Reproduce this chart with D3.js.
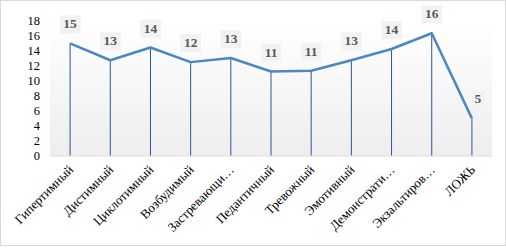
<!DOCTYPE html>
<html>
<head>
<meta charset="utf-8">
<script src="https://cdn.jsdelivr.net/npm/d3@7"></script>
<style>
  body { margin: 0; background: #fff; }
  svg { display: block; }
</style>
</head>
<body>
<div id="chart"></div>
<script>
// data
var categories = ["Гипертимный", "Дистимный", "Циклотимный", "Возбудимый", "Застревающи…",
  "Педантичный", "Тревожный", "Эмотивный", "Демонстрати…", "Экзальтиров…", "ЛОЖЬ"];
var values = [14.96, 12.7, 14.4, 12.45, 13.0, 11.2, 11.3, 12.7, 14.2, 16.3, 4.95];
var yTicks = [0, 2, 4, 6, 8, 10, 12, 14, 16, 18];

var W = 506, H = 248;
var margin = { top: 20.5, right: 14, bottom: 92.5, left: 50 };
var plotW = W - margin.left - margin.right,
    plotH = H - margin.top - margin.bottom;

var svg = d3.select("#chart").append("svg")
  .attr("width", W)
  .attr("height", H);

// outer frame
svg.append("rect")
  .attr("x", 0.5).attr("y", 0.5)
  .attr("width", W - 1).attr("height", H - 3)
  .attr("fill", "#fff")
  .attr("stroke", "#d9d9d9");

var defs = svg.append("defs");
var grad = defs.append("linearGradient")
  .attr("id", "plotbg").attr("x1", 0).attr("y1", 0).attr("x2", 0).attr("y2", 1);
grad.append("stop").attr("offset", "0%").attr("stop-color", "#ffffff");
grad.append("stop").attr("offset", "100%").attr("stop-color", "#eeeeee");

var g = svg.append("g")
  .attr("transform", "translate(" + margin.left + "," + margin.top + ")");

var x = d3.scaleBand().domain(categories).range([0, plotW]);
var y = d3.scaleLinear().domain([0, 18]).range([plotH, 0]);
var cx = function (c) { return x(c) + x.bandwidth() / 2; };

g.append("rect")
  .attr("x", 0).attr("y", 0)
  .attr("width", plotW).attr("height", plotH)
  .attr("fill", "url(#plotbg)");

// y axis, labels only
var yAxis = g.append("g")
  .call(d3.axisLeft(y).tickValues(yTicks).tickSize(0).tickPadding(10));
yAxis.select(".domain").remove();
yAxis.selectAll("text")
  .attr("font-family", "'Liberation Serif', 'Times New Roman', serif")
  .attr("font-size", 12.5)
  .attr("fill", "#000");

// x axis
var xAxis = g.append("g")
  .attr("transform", "translate(0," + plotH + ")")
  .call(d3.axisBottom(x).tickSize(0).tickPadding(0));
xAxis.select(".domain").attr("stroke", "#d9d9d9");
xAxis.selectAll("text")
  .attr("font-family", "'Liberation Serif', 'Times New Roman', serif")
  .attr("font-size", 13)
  .attr("fill", "#000")
  .attr("text-anchor", "end")
  .attr("dy", null)
  .attr("transform", "translate(4,15) rotate(-45)");

var data = categories.map(function (c, i) { return { name: c, value: values[i] }; });

// drop lines
g.selectAll(".drop")
  .data(data)
  .enter().append("line")
  .attr("class", "drop")
  .attr("x1", function (d) { return cx(d.name); })
  .attr("x2", function (d) { return cx(d.name); })
  .attr("y1", function (d) { return y(d.value); })
  .attr("y2", y(0))
  .attr("stroke", "#2e5597")
  .attr("stroke-width", 1);

var line = d3.line()
  .x(function (d) { return cx(d.name); })
  .y(function (d) { return y(d.value); });

g.append("path")
  .datum(data)
  .attr("d", line)
  .attr("fill", "none")
  .attr("stroke", "#4a88c4")
  .attr("stroke-width", 2.5)
  .attr("stroke-linejoin", "round");

// data labels in grey boxes
var labels = g.selectAll(".lbl")
  .data(data)
  .enter().append("g")
  .attr("class", "lbl")
  .attr("transform", function (d, i) {
    // last label sits a bit to the right, as in the original
    var dx = i === data.length - 1 ? 6 : 0;
    return "translate(" + (cx(d.name) + dx) + "," + (y(d.value) - 10) + ")";
  });

labels.append("text")
  .text(function (d) { return Math.round(d.value); })
  .attr("text-anchor", "middle")
  .attr("y", -5)
  .attr("font-family", "'Liberation Serif', 'Times New Roman', serif")
  .attr("font-weight", "bold")
  .attr("font-size", 13.5)
  .attr("fill", "#595959");

labels.insert("rect", "text")
  .each(function () {
    var bb = this.parentNode.querySelector("text").getBBox();
    d3.select(this)
      .attr("x", bb.x - 3.5)
      .attr("width", bb.width + 7)
      .attr("y", -18)
      .attr("height", 18);
  })
  .attr("fill", "#f2f2f2");
</script>
</body>
</html>
